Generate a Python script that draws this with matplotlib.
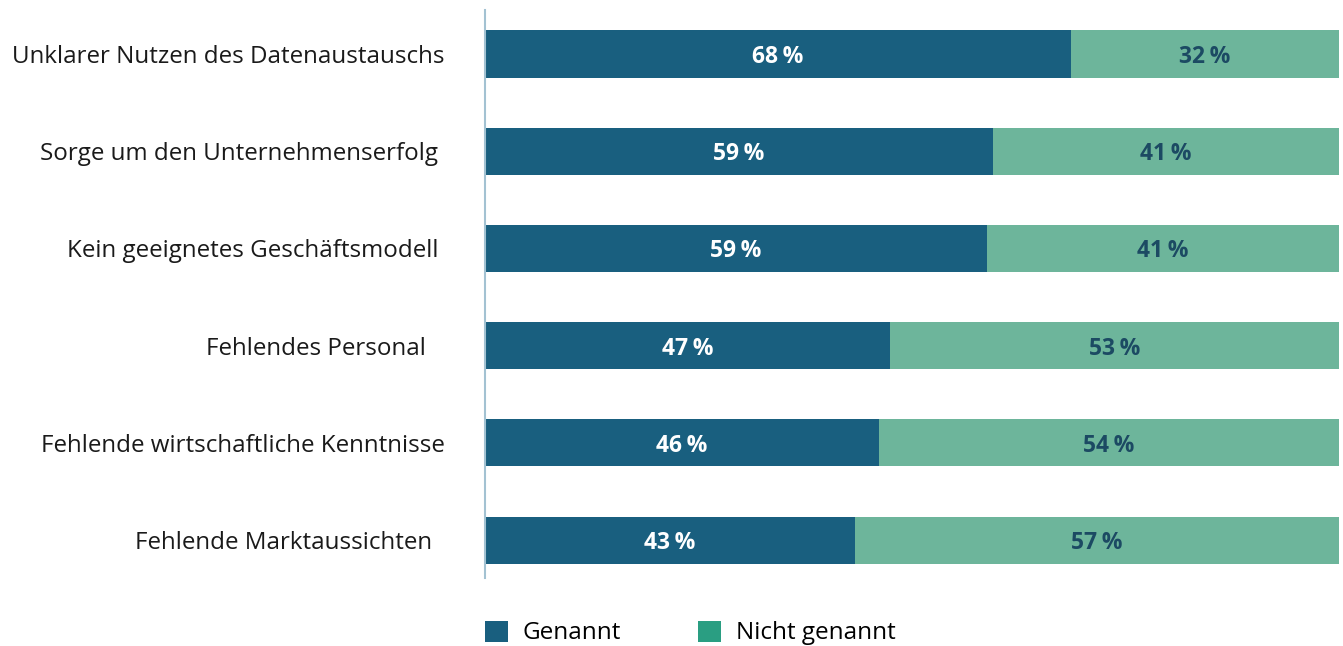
import matplotlib
matplotlib.use("Agg")
import matplotlib.pyplot as plt
from matplotlib.patches import Patch

categories = [
    "Unklarer Nutzen des Datenaustauschs",
    "Sorge um den Unternehmenserfolg ",
    "Kein geeignetes Geschäftsmodell ",
    "Fehlendes Personal   ",
    "Fehlende wirtschaftliche Kenntnisse",
    "Fehlende Marktaussichten  ",
]
genannt = [68.6, 59.5, 58.8, 47.4, 46.1, 43.3]
genannt_labels = ["68\u2009%", "59\u2009%", "59\u2009%", "47\u2009%", "46\u2009%", "43\u2009%"]
nicht_labels = ["32\u2009%", "41\u2009%", "41\u2009%", "53\u2009%", "54\u2009%", "57\u2009%"]
series_names = ["Genannt", "Nicht genannt"]

c_dark = "#195f7f"
c_light = "#6db59b"
c_legend_light = "#2a9e82"
c_axis = "#a3c2d2"

plt.rcParams['font.family'] = ['Open Sans', 'DejaVu Sans']

fig = plt.figure(figsize=(13.43, 6.46), dpi=100)
ax = fig.add_axes([485/1343, 1-578/646, (1339-485)/1343, (578-10)/646])

y = list(range(len(categories)))
nicht = [100 - g for g in genannt]
ax.barh(y, genannt, height=0.485, color=c_dark, left=0)
ax.barh(y, nicht, height=0.485, color=c_light, left=genannt)

for i in y:
    ax.text(genannt[i] / 2, i, genannt_labels[i], ha='center', va='center_baseline',
            color='white', fontsize=16.5, fontweight='bold')
    ax.text(genannt[i] + nicht[i] / 2, i, nicht_labels[i], ha='center', va='center_baseline',
            color='#1c4a63', fontsize=16.5, fontweight='bold')

ax.set_xlim(0, 100)
ax.set_ylim(5.39, -0.453)
ax.set_yticks(y)
ax.set_yticklabels(categories, fontsize=17.4, color='#1a1a1a')
ax.tick_params(axis='y', length=0, pad=29)
ax.set_xticks([])
for s in ['top', 'right', 'bottom']:
    ax.spines[s].set_visible(False)
ax.spines['left'].set_color(c_axis)
ax.spines['left'].set_linewidth(1.5)

handles = [Patch(facecolor=c_dark, label=series_names[0]),
           Patch(facecolor=c_legend_light, label=series_names[1])]
fig.legend(handles=handles, loc='center left', bbox_to_anchor=(485/1343, 1-633/646),
           ncol=2, frameon=False, fontsize=17.5, handlelength=0.95, handleheight=0.95,
           handletextpad=0.6, columnspacing=3.17, borderpad=0, borderaxespad=0)

fig.savefig("out.png", dpi=100)
